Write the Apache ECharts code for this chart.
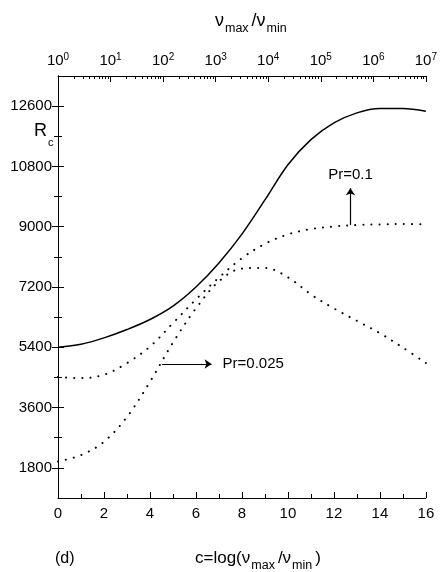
<!DOCTYPE html>
<html>
<head>
<meta charset="utf-8">
<script src="https://cdn.jsdelivr.net/npm/echarts@6/dist/echarts.min.js"></script>
<style>
  html, body { margin: 0; padding: 0; background: #fff; }
  #main { width: 440px; height: 572px; }
</style>
</head>
<body>
<div id="main"></div>
<script>
// c = log(v_max/v_min)
var cValues = [0, 1, 2, 3, 4, 5, 6, 7, 8, 9, 10, 11, 12, 13, 14, 15, 16];
// solid curve
var rcSolid = [5400, 5490, 5680, 5930, 6230, 6630, 7200, 7920, 8780, 9800, 10850, 11600, 12100, 12400, 12530, 12530, 12450];
// dotted curve ending near 9000
var rcPr01 = [4510, 4480, 4580, 4930, 5420, 6120, 6830, 7480, 8060, 8490, 8770, 8930, 9010, 9050, 9070, 9080, 9070];
// dotted curve starting near 2000
var rcPr0025 = [1990, 2180, 2580, 3320, 4370, 5540, 6560, 7370, 7750, 7770, 7490, 6980, 6560, 6190, 5820, 5390, 4930];

// tick labels
var xMajor = [0, 2, 4, 6, 8, 10, 12, 14, 16];
var xMinor = [1, 3, 5, 7, 9, 11, 13, 15];
var yMajor = [1800, 3600, 5400, 7200, 9000, 10800, 12600];
var yMinor = [2700, 4500, 6300, 8100, 9900, 11700];
var topExponents = [0, 1, 2, 3, 4, 5, 6, 7];

// annotation arrows: [c, Rc]
var arrowPr01 = [[12.72, 9050], [12.72, 10150]];
var arrowPr0025 = [[4.53, 4900], [6.68, 4900]];

// minor ticks of the top log axis (2..9 within each decade)
var topMinor = [];
topExponents.slice(0, -1).forEach(function (n) {
  for (var k = 2; k <= 9; k++) topMinor.push(n + Math.log10(k));
});

var FONT = 'Liberation Sans, Arial, sans-serif';

function pairs(ys) {
  return cValues.map(function (c, i) { return [c, ys[i]]; });
}

var chartDom = document.getElementById('main');
var myChart = echarts.init(chartDom);

var axisLineBlack = { show: true, lineStyle: { color: '#000', width: 1 } };
var labelStyle = { color: '#000', fontSize: 15, fontFamily: FONT };

// extra axis that only draws the short (minor) ticks
function tickAxis(pos, min, max, values, len) {
  return {
    type: 'value', min: min, max: max, position: pos,
    axisLine: { show: false },
    axisTick: { inside: true, length: len, customValues: values, lineStyle: { color: '#000' } },
    axisLabel: { show: false },
    splitLine: { show: false }
  };
}

var nuRich = {
  n: { fontSize: 18, fontFamily: FONT, fill: '#000', lineHeight: 18, verticalAlign: 'top' },
  sub: { fontSize: 12.5, fontFamily: FONT, fill: '#000', lineHeight: 33, padding: [0, 3, 0, 1] }
};

var option = {
  animation: false,
  backgroundColor: '#fff',
  grid: { left: 58, right: 11, top: 76, bottom: 74 },
  xAxis: [
    {
      type: 'value', min: 0, max: 16, position: 'bottom',
      axisLine: axisLineBlack,
      axisTick: { inside: true, length: 6, customValues: xMajor, lineStyle: { color: '#000' } },
      axisLabel: Object.assign({ customValues: xMajor, margin: 8 }, labelStyle),
      splitLine: { show: false }
    },
    tickAxis('bottom', 0, 16, xMinor, 4),
    {
      type: 'value', min: 0, max: 7, position: 'top',
      axisLine: axisLineBlack,
      axisTick: { inside: true, length: 6, customValues: topExponents, lineStyle: { color: '#000' } },
      axisLabel: {
        customValues: topExponents,
        margin: 8,
        formatter: function (v) { return '{b|10}{s|' + Math.round(v) + '}'; },
        rich: {
          b: { fontSize: 15, fontFamily: FONT, color: '#000', lineHeight: 16, verticalAlign: 'bottom' },
          s: { fontSize: 10, fontFamily: FONT, color: '#000', lineHeight: 4, verticalAlign: 'top' }
        }
      },
      splitLine: { show: false }
    },
    tickAxis('top', 0, 7, topMinor, 3)
  ],
  yAxis: [
    {
      type: 'value', min: 900, max: 13500, position: 'left',
      axisLine: axisLineBlack,
      axisTick: { inside: true, length: 6, customValues: yMajor, lineStyle: { color: '#000' } },
      axisLabel: Object.assign({
        customValues: yMajor, margin: 6,
        formatter: function (v) { return String(v); }
      }, labelStyle),
      splitLine: { show: false }
    },
    tickAxis('left', 900, 13500, yMinor, 4),
    {
      type: 'value', min: 900, max: 13500, position: 'right',
      axisLine: axisLineBlack,
      axisTick: { inside: true, length: 6, customValues: yMajor, lineStyle: { color: '#000' } },
      axisLabel: { show: false },
      splitLine: { show: false }
    },
    tickAxis('right', 900, 13500, yMinor, 4)
  ],
  series: [
    {
      type: 'line', name: 'solid',
      data: pairs(rcSolid),
      smooth: 0.35, showSymbol: false,
      lineStyle: { color: '#000', width: 1.5 }
    },
    {
      type: 'line', name: 'Pr=0.1',
      data: pairs(rcPr01),
      smooth: 0.35, showSymbol: false,
      lineStyle: { color: '#000', width: 2, type: [0.1, 8], cap: 'round' },
      markLine: {
        silent: true,
        symbol: ['none', 'arrow'],
        symbolSize: [7, 7],
        lineStyle: { color: '#000', width: 1.2, type: 'solid' },
        label: {
          show: true, position: 'end', distance: 6,
          formatter: 'Pr=0.1',
          color: '#000', fontSize: 15, fontFamily: FONT
        },
        data: [[{ coord: arrowPr01[0] }, { coord: arrowPr01[1] }]]
      }
    },
    {
      type: 'line', name: 'Pr=0.025',
      data: pairs(rcPr0025),
      smooth: 0.35, showSymbol: false,
      lineStyle: { color: '#000', width: 2, type: [0.1, 8], cap: 'round' },
      markLine: {
        silent: true,
        symbol: ['none', 'arrow'],
        symbolSize: [7, 7],
        lineStyle: { color: '#000', width: 1.2, type: 'solid' },
        label: {
          show: true, position: 'end', distance: 11,
          formatter: 'Pr=0.025',
          color: '#000', fontSize: 15, fontFamily: FONT
        },
        data: [[{ coord: arrowPr0025[0] }, { coord: arrowPr0025[1] }]]
      }
    }
  ],
  graphic: [
    {
      type: 'text', left: 215, top: 12,
      style: { text: '{n|ν}{sub|max}{n|/ν}{sub|min}', rich: nuRich }
    },
    {
      type: 'text', left: 34, top: 122,
      style: {
        text: '{r|R}{c|c}',
        rich: {
          r: { fontSize: 18, fontFamily: FONT, fill: '#000', lineHeight: 18, verticalAlign: 'top' },
          c: { fontSize: 11, fontFamily: FONT, fill: '#000', lineHeight: 42, padding: [0, 0, 0, 1] }
        }
      }
    },
    {
      type: 'text', left: 55, top: 551,
      style: { text: '(d)', fontSize: 16, fontFamily: FONT, fill: '#000' }
    },
    {
      type: 'text', left: 195, top: 550,
      style: {
        text: '{n|c=log(ν}{sub|max}{n|/ν}{sub|min}{n|)}',
        rich: {
          n: { fontSize: 17, fontFamily: FONT, fill: '#000', lineHeight: 17, verticalAlign: 'top' },
          sub: { fontSize: 12.5, fontFamily: FONT, fill: '#000', lineHeight: 31, padding: [0, 3, 0, 1] }
        }
      }
    }
  ]
};

option && myChart.setOption(option);
</script>
</body>
</html>
